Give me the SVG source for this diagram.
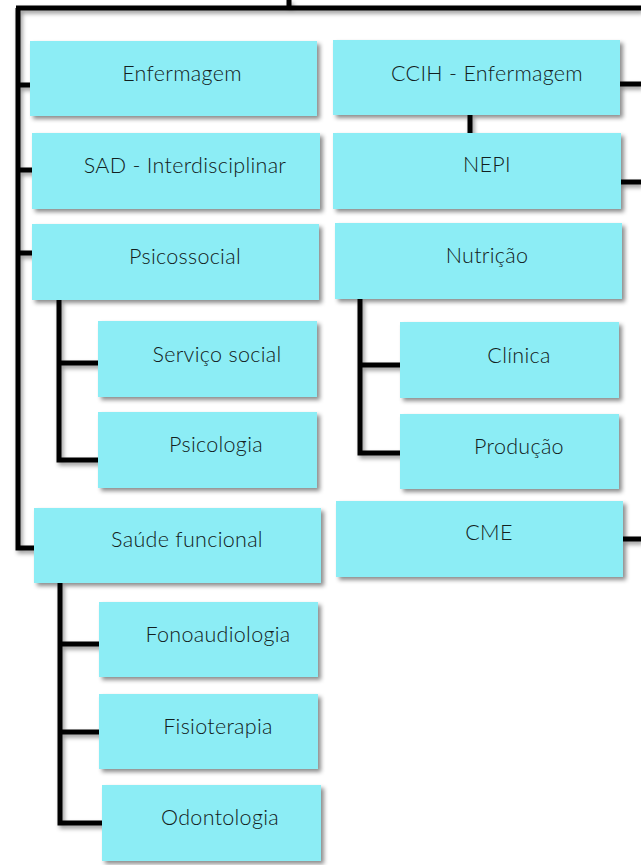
<svg xmlns="http://www.w3.org/2000/svg" width="641" height="865" viewBox="0 0 641 865">
<style>
.box{fill:#8CEDF5;}
.lbl{font-family:Lato,"Noto Sans","Liberation Sans",sans-serif;font-size:21.5px;font-weight:300;letter-spacing:0.3px;fill:#122020;text-anchor:middle;}
.ln{fill:none;stroke:#000;stroke-width:5;stroke-linejoin:miter;stroke-linecap:butt;}
</style>
<defs>
<filter id="sh" x="-10%" y="-10%" width="130%" height="140%">
<feDropShadow dx="3" dy="3" stdDeviation="2" flood-color="#000" flood-opacity="0.45"/>
</filter>
<filter id="lsh" x="-10%" y="-10%" width="130%" height="130%">
<feDropShadow dx="2" dy="3" stdDeviation="2" flood-color="#000" flood-opacity="0.4"/>
</filter>
</defs>
<g id="connectors" filter="url(#lsh)">
<path class="ln" d="M289 0 V8 M16 8 H641"/>
<path class="ln" d="M18 8 V548 H35"/>
<path class="ln" d="M18 85 H31 M18 170 H33 M18 253 H33"/>
<path class="ln" d="M59 300 V460 H99 M59 363 H99"/>
<path class="ln" d="M60 583 V823 H103 M60 644 H100 M60 732 H100"/>
<path class="ln" d="M470 115 V134"/>
<path class="ln" d="M620 84 H641 M621 182 H641 M623 539 H641"/>
<path class="ln" d="M360 299 V453 H401 M360 365 H401"/>
</g>
<g id="enfermagem"><rect class="box" x="30" y="41" width="287" height="75" filter="url(#sh)"/><text class="lbl" x="182" y="81">Enfermagem</text></g>
<g id="sad"><rect class="box" x="32" y="133" width="288" height="76" filter="url(#sh)"/><text class="lbl" x="185" y="173">SAD - Interdisciplinar</text></g>
<g id="psicossocial"><rect class="box" x="32" y="224" width="287" height="76" filter="url(#sh)"/><text class="lbl" x="185" y="264">Psicossocial</text></g>
<g id="servico-social"><rect class="box" x="98" y="321" width="219" height="76" filter="url(#sh)"/><text class="lbl" x="217" y="362">Serviço social</text></g>
<g id="psicologia"><rect class="box" x="98" y="412" width="219" height="76" filter="url(#sh)"/><text class="lbl" x="216" y="452">Psicologia</text></g>
<g id="saude-funcional"><rect class="box" x="34" y="508" width="287" height="75" filter="url(#sh)"/><text class="lbl" x="187" y="547">Saúde funcional</text></g>
<g id="fonoaudiologia"><rect class="box" x="99" y="602" width="219" height="75" filter="url(#sh)"/><text class="lbl" x="218" y="642">Fonoaudiologia</text></g>
<g id="fisioterapia"><rect class="box" x="99" y="694" width="219" height="75" filter="url(#sh)"/><text class="lbl" x="218" y="734">Fisioterapia</text></g>
<g id="odontologia"><rect class="box" x="102" y="785" width="219" height="76" filter="url(#sh)"/><text class="lbl" x="220" y="825">Odontologia</text></g>
<g id="ccih"><rect class="box" x="333" y="40" width="287" height="75" filter="url(#sh)"/><text class="lbl" x="487" y="81">CCIH - Enfermagem</text></g>
<g id="nepi"><rect class="box" x="333" y="133" width="288" height="76" filter="url(#sh)"/><text class="lbl" x="487" y="172">NEPI</text></g>
<g id="nutricao"><rect class="box" x="335" y="223" width="287" height="76" filter="url(#sh)"/><text class="lbl" x="487" y="263">Nutrição</text></g>
<g id="clinica"><rect class="box" x="400" y="322" width="219" height="76" filter="url(#sh)"/><text class="lbl" x="519" y="363">Clínica</text></g>
<g id="producao"><rect class="box" x="400" y="414" width="219" height="75" filter="url(#sh)"/><text class="lbl" x="519" y="454">Produção</text></g>
<g id="cme"><rect class="box" x="336" y="501" width="287" height="76" filter="url(#sh)"/><text class="lbl" x="489" y="540">CME</text></g>
</svg>
